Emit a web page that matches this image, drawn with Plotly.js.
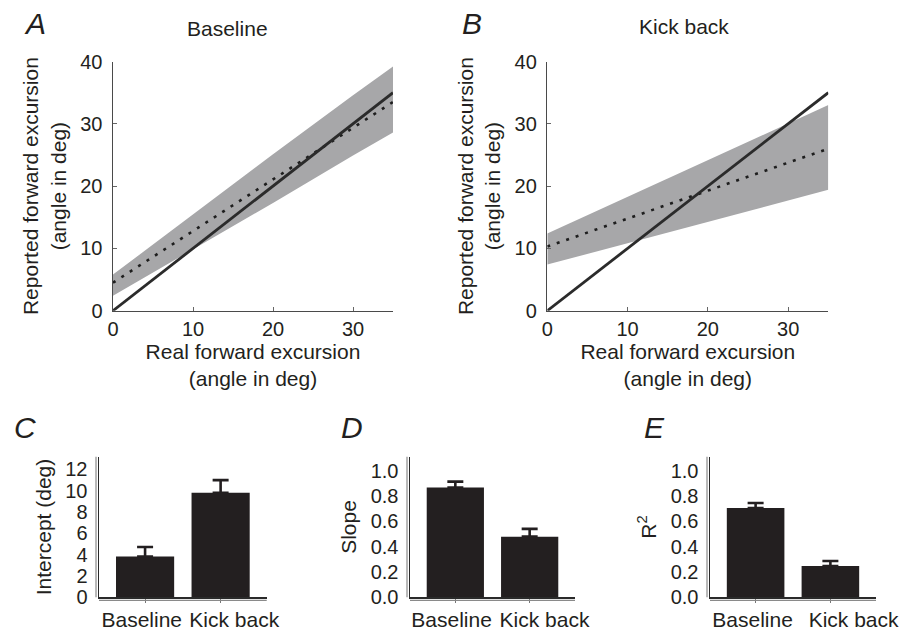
<!DOCTYPE html>
<html>
<head>
<meta charset="utf-8">
<script src="https://cdn.plot.ly/plotly-3.0.1.min.js"></script>
<style>html,body{margin:0;padding:0;background:#fff;}#chart{width:901px;height:633px;}</style>
</head>
<body>
<div id="chart"></div>
<script>
// ---- Data ----
const realExcursion = [0, 10, 20, 30, 35];          // x (deg)
const identityLine  = [0, 10, 20, 30, 35];          // y = x reference line
const baselineMean  = [4.5, 12.8, 21.1, 29.4, 33.5];
const baselineUpper = [5.8, 15.5, 25.1, 34.6, 39.2];
const baselineLower = [2.4, 9.8, 17.3, 24.9, 28.6];
const kickMean      = [10.3, 14.8, 19.3, 23.8, 26.0];
const kickUpper     = [12.4, 18.3, 24.2, 30.1, 33.0];
const kickLower     = [7.4, 10.8, 14.3, 17.7, 19.4];

const conditions   = ['Baseline', 'Kick back'];
const interceptVal = [3.83, 9.81];
const interceptErr = [0.89, 1.19];
const slopeVal     = [0.866, 0.479];
const slopeErr     = [0.047, 0.061];
const r2Val        = [0.705, 0.247];
const r2Err        = [0.040, 0.040];
const noErr        = [0, 0];

// ---- Styles ----
const FONT = 'Liberation Sans, Arial, Helvetica, sans-serif';
const TXT = '#231f20';
const BAND = '#a7a7a9';
const LINE = '#2b2b2b';
const BAR = '#231f20';
const W = 901, H = 633;
const px = v => v / W;
const py = v => 1 - v / H;
const CAT_RANGE = [-0.61, 1.61];

function bandTraces(xa, ya, lower, upper, mean) {
  return [
    {x: realExcursion, y: lower, xaxis: xa, yaxis: ya, mode: 'lines', line: {width: 0, color: BAND}, hoverinfo: 'skip', showlegend: false},
    {x: realExcursion, y: upper, xaxis: xa, yaxis: ya, mode: 'lines', line: {width: 0, color: BAND}, fill: 'tonexty', fillcolor: BAND, hoverinfo: 'skip', showlegend: false},
    {x: realExcursion, y: mean, xaxis: xa, yaxis: ya, mode: 'lines', line: {width: 2.6, color: '#1e1e1e', dash: '3px,7px'}, showlegend: false},
    {x: realExcursion, y: identityLine, xaxis: xa, yaxis: ya, mode: 'lines', line: {width: 2.8, color: LINE}, showlegend: false}
  ];
}

function barTrace(xa, ya, vals, errs) {
  return {
    type: 'bar', x: conditions, y: vals, xaxis: xa, yaxis: ya,
    width: 0.77, marker: {color: BAR, line: {width: 0}},
    error_y: {type: 'data', array: errs, arrayminus: noErr, symmetric: false, color: BAR, thickness: 2.6, width: 8},
    showlegend: false
  };
}
// Empty helper trace so each label overlay axis gets drawn
function holder(xa, ya) {
  return {type: 'scatter', mode: 'markers', x: [], y: [], xaxis: xa, yaxis: ya, showlegend: false, hoverinfo: 'skip'};
}

const data = [
  ...bandTraces('x', 'y', baselineLower, baselineUpper, baselineMean),
  ...bandTraces('x2', 'y2', kickLower, kickUpper, kickMean),
  barTrace('x3', 'y3', interceptVal, interceptErr),
  barTrace('x4', 'y4', slopeVal, slopeErr),
  barTrace('x5', 'y5', r2Val, r2Err),
  holder('x6', 'y3'), holder('x7', 'y4'), holder('x8', 'y5')
];

const tickFont = {family: FONT, size: 20, color: TXT};
const titleFont = {family: FONT, size: 21, color: TXT};

function lineX(domain, anchor) {
  return {
    domain: domain, anchor: anchor, range: [0, 35], tickvals: [0, 10, 20, 30],
    showline: true, linecolor: '#4a4a4a', linewidth: 1.5, ticks: 'inside', ticklen: 4, tickcolor: '#666', tickwidth: 1,
    showgrid: false, zeroline: false, tickfont: tickFont, ticklabelstandoff: 0,
    title: {text: 'Real forward excursion<br>(angle in deg)', font: titleFont, standoff: 0}
  };
}
function lineY(domain, anchor) {
  return {
    domain: domain, anchor: anchor, range: [0, 40], tickvals: [0, 10, 20, 30, 40],
    showline: true, linecolor: '#4a4a4a', linewidth: 1.5, ticks: 'inside', ticklen: 4, tickcolor: '#666', tickwidth: 1,
    showgrid: false, zeroline: false, tickfont: tickFont, ticklabelstandoff: 5,
    title: {text: 'Reported forward excursion<br>(angle in deg)', font: titleFont, standoff: 8}
  };
}
// Category axis carrying the bars and the tick marks
function barX(domain, anchor) {
  return {
    domain: domain, anchor: anchor, type: 'category', range: CAT_RANGE,
    showticklabels: false,
    showline: true, linecolor: '#2a2a2a', linewidth: 1.5, ticks: 'outside', ticklen: 4, tickcolor: '#777', tickwidth: 1,
    showgrid: false, zeroline: false
  };
}
// Overlay axis carrying the category names, spread apart as in the reference (labels wider than bar spacing)
function labelX(domain, anchor, overlay, shiftL, shiftR) {
  return {
    domain: domain, anchor: anchor, overlaying: overlay, side: 'bottom', type: 'linear', range: CAT_RANGE,
    tickmode: 'array', tickvals: [0 + shiftL, 1 + shiftR], ticktext: conditions, tickangle: 0,
    showline: false, ticks: '', showgrid: false, zeroline: false, showticklabels: true,
    tickfont: {family: FONT, size: 21, color: TXT}, ticklabelstandoff: 8
  };
}
function barY(domain, anchor, range, dtick, fmt, title) {
  return {
    domain: domain, anchor: anchor, range: range, dtick: dtick, tick0: 0, tickformat: fmt,
    showline: true, linecolor: '#2a2a2a', linewidth: 1.5, ticks: '', showgrid: false, zeroline: false,
    tickfont: tickFont, ticklabelstandoff: 6,
    title: {text: title, font: titleFont, standoff: 8}
  };
}

const topY = [py(310.7), py(61.5)];
const botY = [py(597.3), py(456.7)];
const domC = [px(99), px(266.7)];
const domD = [px(410), px(575)];
const domE = [px(710), px(876)];

function letter(t, x, y) {
  return {text: t, x: px(x), y: py(y), xref: 'paper', yref: 'paper', showarrow: false,
          xanchor: 'center', yanchor: 'middle', font: {family: FONT, size: 30, color: TXT, style: 'italic'}};
}
function heading(t, x, y) {
  return {text: t, x: px(x), y: py(y), xref: 'paper', yref: 'paper', showarrow: false,
          xanchor: 'center', yanchor: 'middle', font: {family: FONT, size: 21, color: TXT}};
}

const secondLine = '#8a8a8a';
function doubleLines(xa, ya) {
  return [
    {type: 'line', xref: xa + ' domain', yref: ya + ' domain', xsizemode: 'pixel', xanchor: 0, x0: -3, x1: -3, y0: 0, y1: 1, line: {color: secondLine, width: 1.2}},
    {type: 'line', xref: xa + ' domain', yref: ya + ' domain', ysizemode: 'pixel', yanchor: 0, y0: -3, y1: -3, x0: 0, x1: 1, line: {color: secondLine, width: 1.2}}
  ];
}

const layout = {
  width: W, height: H, margin: {l: 0, r: 0, t: 0, b: 0},
  paper_bgcolor: '#fff', plot_bgcolor: 'rgba(0,0,0,0)', showlegend: false,
  font: {family: FONT, color: TXT},
  xaxis: lineX([px(113), px(393)], 'y'),
  yaxis: lineY(topY, 'x'),
  xaxis2: lineX([px(547.3), px(828.3)], 'y2'),
  yaxis2: lineY(topY, 'x2'),
  xaxis3: barX(domC, 'y3'),
  yaxis3: barY(botY, 'x3', [0, 13.2], 2, 'd', 'Intercept (deg)'),
  xaxis4: barX(domD, 'y4'),
  yaxis4: barY(botY, 'x4', [0, 1.11], 0.2, '.1f', 'Slope'),
  xaxis5: barX(domE, 'y5'),
  yaxis5: barY(botY, 'x5', [0, 1.11], 0.2, '.1f', 'R<sup>2</sup>'),
  xaxis6: labelX(domC, 'y3', 'x3', -0.044, 0.18),
  xaxis7: labelX(domD, 'y4', 'x4', -0.05, 0.20),
  xaxis8: labelX(domE, 'y5', 'x5', -0.041, 0.31),
  shapes: [...doubleLines('x3', 'y3'), ...doubleLines('x4', 'y4'), ...doubleLines('x5', 'y5')],
  annotations: [
    letter('A', 35, 24), letter('B', 472, 24),
    letter('C', 25, 427), letter('D', 352, 427), letter('E', 654, 427),
    heading('Baseline', 228, 28), heading('Kick back', 684, 27)
  ]
};

Plotly.newPlot('chart', data, layout, {staticPlot: true, displayModeBar: false});
</script>
</body>
</html>
